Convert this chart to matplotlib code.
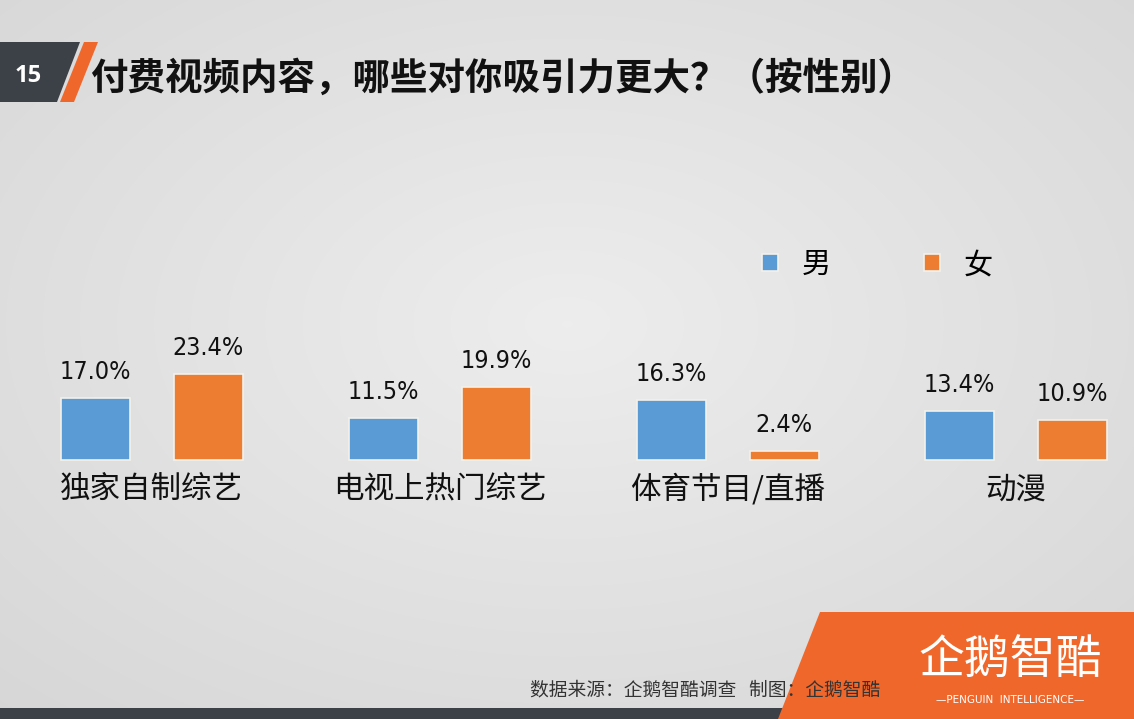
import matplotlib.pyplot as plt
import numpy as np
from matplotlib.patches import Polygon, Rectangle

plt.rcParams['font.family'] = ['Noto Sans CJK SC', 'DejaVu Sans']

# data
categories = ['独家自制综艺', '电视上热门综艺', '体育节目/直播', '动漫']
male = [17.0, 11.5, 16.3, 13.4]
female = [23.4, 19.9, 2.4, 10.9]
series_names = ['男', '女']
title = '付费视频内容，哪些对你吸引力更大？（按性别）'
source = '数据来源：企鹅智酷调查   制图：企鹅智酷'

blue = '#5b9bd5'
orange = '#ed7d31'
dark = '#3c4047'

W, H = 1134, 719
fig = plt.figure(figsize=(W / 100, H / 100), dpi=100)

# background + decorations in pixel coords
bg = fig.add_axes([0, 0, 1, 1])
bg.set_xlim(0, W)
bg.set_ylim(H, 0)
bg.axis('off')
yy, xx = np.mgrid[0:H, 0:W]
r = np.sqrt(((xx - W * 0.5) / W) ** 2 + ((yy - H * 0.45) / H) ** 2)
grad = 0.93 - 0.12 * r
bg.imshow(np.dstack([grad, grad, grad]), extent=(0, W, H, 0), aspect='auto', zorder=0)

bg.add_patch(Polygon([(0, 42), (80, 42), (57, 102), (0, 102)], closed=True,
                     facecolor=dark, edgecolor='none', zorder=1))
bg.add_patch(Polygon([(84, 42), (98, 42), (74, 102), (60, 102)], closed=True,
                     facecolor='#f0672b', edgecolor='none', zorder=1))
bg.text(28, 76, '15', color='white', fontsize=17, fontweight='bold',
        ha='center', va='center', family=['Open Sans', 'DejaVu Sans'], zorder=2)
bg.text(90, 78, title, fontsize=27, fontweight='bold', color='#111111',
        ha='left', va='center', zorder=2)

bg.add_patch(Rectangle((0, 708), 790, 11, facecolor=dark, edgecolor='none', zorder=1))
bg.add_patch(Polygon([(820, 612), (W, 612), (W, H), (778, H)], closed=True,
                     facecolor='#f0672b', edgecolor='none', zorder=1))
bg.text(1010, 660, '企鹅智酷', color='white', fontsize=33, ha='center',
        va='center', zorder=2)
bg.text(1010, 700, '—PENGUIN  INTELLIGENCE—', color='white', fontsize=7.5,
        ha='center', va='center', family=['DejaVu Sans'], zorder=2)
bg.text(880, 690, source, color='#333333', fontsize=13.5, style='italic',
        ha='right', va='center', zorder=2)

# chart axes spanning the figure, scaled so bars land where they should
ax = fig.add_axes([0, 0, 1, 1])
ax.patch.set_alpha(0)
spacing = 288.0
px_per_unit = 3.66
base_px = 460
ax.set_xlim(-151.5 / spacing, 3 + (W - 1016) / spacing)
ax.set_ylim(-(H - base_px) / px_per_unit, base_px / px_per_unit)
ax.axis('off')

x = np.arange(len(categories))
off = 113 / spacing
bw = 69 / spacing
b1 = ax.bar(x - off / 2, male, bw, color=blue, edgecolor='#f4f1ea',
            linewidth=1.2, label=series_names[0])
b2 = ax.bar(x + off / 2, female, bw, color=orange, edgecolor='#f4f1ea',
            linewidth=1.2, label=series_names[1])

for bars, vals in ((b1, male), (b2, female)):
    for rect, v in zip(bars, vals):
        ax.annotate(f'{v:.1f}%', (rect.get_x() + rect.get_width() / 2, v),
                    xytext=(0, 10), textcoords='offset points', ha='center',
                    va='bottom', fontsize=18, fontstretch='condensed',
                    family=['DejaVu Sans'], color='#111111')

for xi, cat in zip(x, categories):
    ax.text(xi, -30 / px_per_unit, cat, ha='center', va='center', fontsize=22,
            color='#111111')

ax.legend(handles=[b1, b2], labels=series_names, loc='center left',
          bbox_to_anchor=(736 / W, 1 - 265 / H), ncol=2, frameon=False,
          fontsize=21, handlelength=0.55, handleheight=0.55, handletextpad=0.8,
          columnspacing=3.2)

fig.savefig('out.png', dpi=100)
